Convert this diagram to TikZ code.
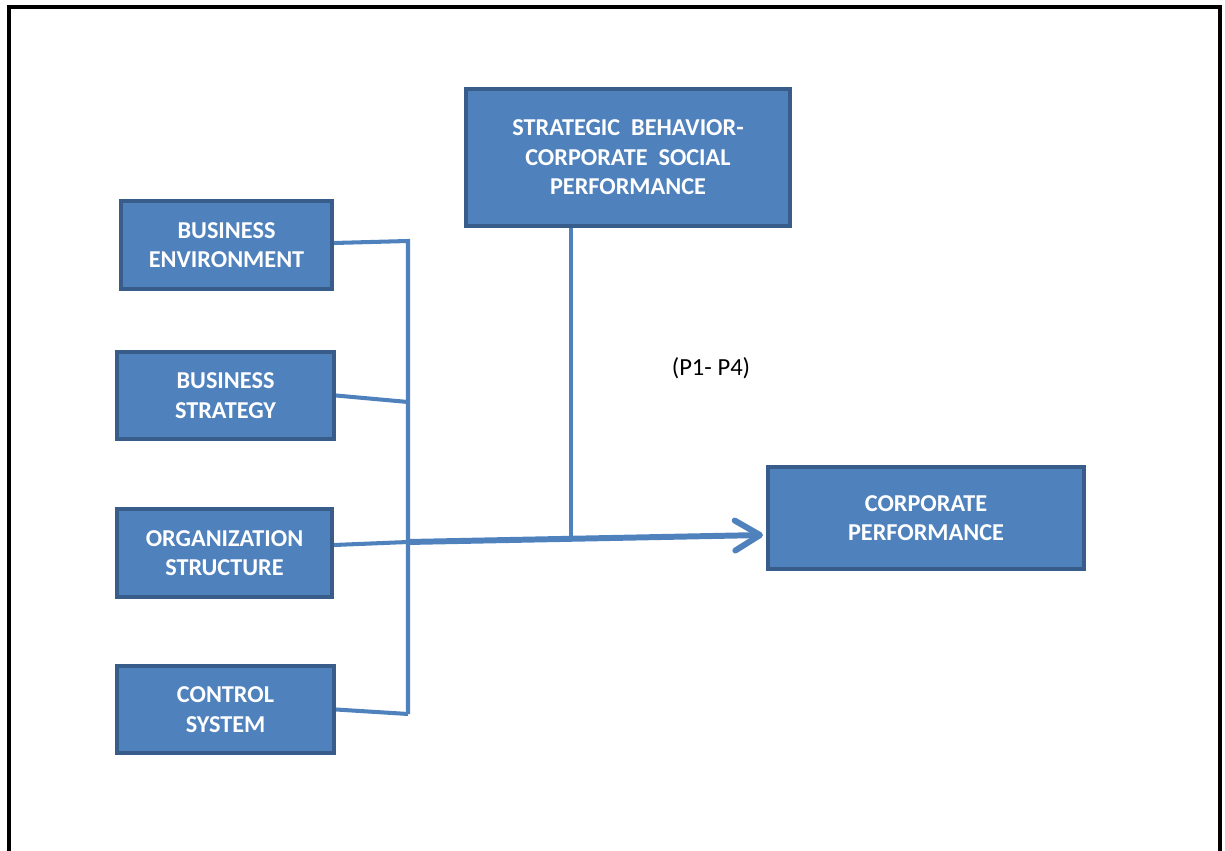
\documentclass[tikz,border=0pt]{standalone}
\usepackage{fontspec}
\setmainfont{Carlito}
\usetikzlibrary{arrows.meta,calc}

\definecolor{boxfill}{HTML}{4F81BD}
\definecolor{boxline}{HTML}{385D8A}

\begin{document}
\begin{tikzpicture}[x=0.02cm, y=-0.02cm,
        factor/.style={draw=boxline, fill=boxfill, line width=2.3pt, text=white, align=center,
          inner sep=0pt, font=\fontsize{13.8}{16.8}\selectfont\bfseries},
        link/.style={draw=boxfill, line width=2.3pt},
        mainlink/.style={draw=boxfill, line width=3.4pt,
          -{Straight Barb[length=0.5cm, width=0.6cm, round]}}
        ]
        \useasboundingbox (0,0) rectangle (1225,851);
        \draw [line width=2.1pt] (9,851) -- (9,7) -- (1220,7) -- (1220,851);

        \node [factor, minimum width=4.22cm, minimum height=1.76cm] (be) at (226.5,245) {BUSINESS\\ENVIRONMENT};
        \node [factor, minimum width=4.34cm, minimum height=1.74cm] (bs) at (225.5,395.5) {BUSINESS\\STRATEGY};
        \node [factor, minimum width=4.30cm, minimum height=1.76cm] (os) at (224.5,553) {ORGANIZATION\\STRUCTURE};
        \node [factor, minimum width=4.34cm, minimum height=1.74cm] (cs) at (225.5,709.5) {CONTROL\\SYSTEM};
        \node [factor, minimum width=6.48cm, minimum height=2.74cm] (sb) at (628,157.5) {STRATEGIC~ BEHAVIOR-\\CORPORATE~ SOCIAL\\PERFORMANCE};
        \node [factor, minimum width=6.32cm, minimum height=2.04cm] (cp) at (926,518) {CORPORATE\\PERFORMANCE};
        \node [font=\fontsize{14}{16}\selectfont] (prop) at (711,368) {(P1- P4)};

        \coordinate (bustop) at (408,241);
        \coordinate (busb) at (408,402);
        \coordinate (join) at (408,542);
        \coordinate (busbot) at (408,714);
        \coordinate (tip) at (763,535);
        \coordinate (meet) at ($(join)!0.46!(tip)$);

        \draw [link] ([yshift=0.04cm]be.east) -- (bustop) -- (busbot);
        \draw [link] (bs.east) -- (busb);
        \draw [link] ([yshift=0.16cm]os.east) -- (join);
        \draw [link] (cs.east) -- (busbot);
        \draw [mainlink] (join) -- (tip);
        \draw [link] (sb.south -| meet) -- (meet);
\end{tikzpicture}
\end{document}
